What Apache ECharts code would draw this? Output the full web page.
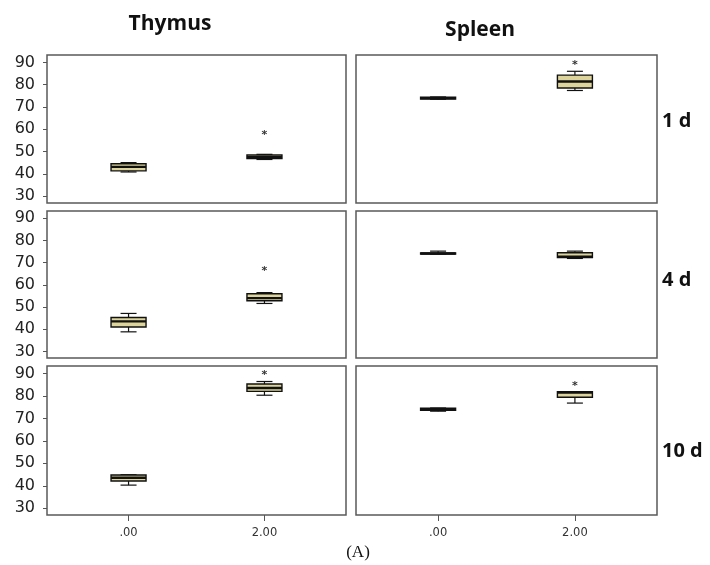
<!DOCTYPE html>
<html><head><meta charset="utf-8">
<script src="https://cdn.jsdelivr.net/npm/echarts@6/dist/echarts.min.js"></script>
<style>html,body{margin:0;padding:0;background:#fff}#c{width:710px;height:565px}</style>
</head><body><div id="c"></div>
<script>
// ---- data ----
const tissues = ['Thymus', 'Spleen'];
const days = ['1 d', '4 d', '10 d'];
const xValues = [0, 2];
const xTickLabels = ['.00', '2.00'];
const yTickValues = [30, 40, 50, 60, 70, 80, 90];
// box stats: [min, q1, median, q3, max] for .00 and 2.00
const thymus1d = [[40.9, 41.4, 43.2, 44.6, 45.1], [46.5, 46.9, 47.5, 48.5, 48.8]];
const spleen1d = [[73.5, 73.6, 74.0, 74.4, 74.5], [77.4, 78.5, 81.4, 84.3, 86.0]];
const thymus4d = [[38.8, 41.0, 43.5, 45.3, 47.1], [51.6, 52.8, 54.0, 56.0, 56.5]];
const spleen4d = [[73.9, 73.9, 74.1, 74.4, 75.2], [71.9, 72.3, 72.7, 74.5, 75.2]];
const thymus10d = [[40.3, 42.1, 43.6, 44.8, 44.9], [80.3, 82.0, 83.5, 85.3, 86.4]];
const spleen10d = [[73.2, 73.6, 74.0, 74.5, 74.6], [76.8, 79.4, 81.5, 81.9, 81.9]];
// outliers: [x, value]
const thymus1dOut = [[2, 58.6]];
const spleen1dOut = [[2, 90.0]];
const thymus4dOut = [[2, 67.7]];
const spleen4dOut = [];
const thymus10dOut = [[2, 90.4]];
const spleen10dOut = [[2, 85.5]];

const panels = [
  [thymus1d, thymus1dOut, spleen1d, spleen1dOut],
  [thymus4d, thymus4dOut, spleen4d, spleen4dOut],
  [thymus10d, thymus10dOut, spleen10d, spleen10dOut]
];

// ---- layout ----
const rows = [{top: 55, height: 148}, {top: 211, height: 147}, {top: 366, height: 149}];
const cols = [{left: 47, width: 299}, {left: 356, width: 301}];
const FILL = '#dcd49b';
const BOXW = 35, CAPW = 16;

function renderBox(params, api) {
  const x = api.value(0);
  const p = [1, 2, 3, 4, 5].map(i => api.coord([x, api.value(i)]));
  const cx = p[0][0];
  const yMin = p[0][1], yQ1 = p[1][1], yMed = p[2][1], yQ3 = p[3][1], yMax = p[4][1];
  const ls = {stroke: '#111', lineWidth: 1.2};
  const children = [
    {type: 'line', shape: {x1: cx, y1: yMax, x2: cx, y2: yQ3}, style: ls},
    {type: 'line', shape: {x1: cx, y1: yQ1, x2: cx, y2: yMin}, style: ls},
    {type: 'line', shape: {x1: cx - CAPW / 2, y1: yMax, x2: cx + CAPW / 2, y2: yMax}, style: ls},
    {type: 'line', shape: {x1: cx - CAPW / 2, y1: yMin, x2: cx + CAPW / 2, y2: yMin}, style: ls},
    {type: 'rect', shape: {x: cx - BOXW / 2, y: yQ3, width: BOXW, height: Math.max(yQ1 - yQ3, 0.5)},
      style: {fill: FILL, stroke: '#111', lineWidth: 1.4}},
    {type: 'line', shape: {x1: cx - BOXW / 2, y1: yMed, x2: cx + BOXW / 2, y2: yMed},
      style: {stroke: '#111', lineWidth: 2.4}}
  ];
  return {type: 'group', children};
}
function renderOut(params, api) {
  const pt = api.coord([api.value(0), api.value(1)]);
  return {type: 'text', x: pt[0], y: pt[1] + 3,
    style: {text: '*', fill: '#333', font: 'bold 11px "DejaVu Sans"', align: 'center', verticalAlign: 'middle'}};
}

const grid = [], xAxis = [], yAxis = [], series = [];
rows.forEach((r, ri) => {
  cols.forEach((c, ci) => {
    const gi = grid.length;
    grid.push({left: c.left, top: r.top, width: c.width, height: r.height, show: true,
      borderColor: '#5a5a5a', borderWidth: 1.5, backgroundColor: '#fff', containLabel: false});
    const bottom = ri === 2;
    xAxis.push({type: 'value', gridIndex: gi, min: -1.2, max: 3.2, position: 'bottom',
      axisLine: {show: false, onZero: false}, splitLine: {show: false},
      axisTick: {show: bottom, customValues: xValues, length: 6, lineStyle: {color: '#555', width: 1}},
      axisLabel: {show: bottom, customValues: xValues, margin: 12, color: '#333', fontSize: 11.5,
        fontFamily: 'DejaVu Sans', formatter: v => xTickLabels[xValues.indexOf(v)]}});
    const left = ci === 0;
    yAxis.push({type: 'value', gridIndex: gi, min: 27, max: 93.3, position: 'left',
      axisLine: {show: false, onZero: false}, splitLine: {show: false},
      axisTick: {show: left, customValues: yTickValues, length: 4, lineStyle: {color: '#555', width: 1}},
      axisLabel: {show: left, customValues: yTickValues, margin: 12, color: '#222', fontSize: 16,
        fontFamily: 'DejaVu Sans'}});
    const boxes = panels[ri][ci * 2];
    const outs = panels[ri][ci * 2 + 1];
    series.push({type: 'custom', xAxisIndex: gi, yAxisIndex: gi, renderItem: renderBox, clip: false,
      encode: {x: 0, y: [1, 2, 3, 4, 5]},
      data: boxes.map((b, i) => [xValues[i]].concat(b))});
    series.push({type: 'custom', xAxisIndex: gi, yAxisIndex: gi, renderItem: renderOut, clip: false,
      encode: {x: 0, y: 1}, data: outs});
  });
});

const headFont = 'bold 21px "Open Sans"';
const graphic = [
  {type: 'text', x: 170, y: 24, style: {text: tissues[0], font: headFont, fill: '#111', align: 'center', verticalAlign: 'middle'}},
  {type: 'text', x: 480, y: 30, style: {text: tissues[1], font: headFont, fill: '#111', align: 'center', verticalAlign: 'middle'}},
  {type: 'text', x: 662, y: 121, style: {text: days[0], font: 'bold 20px "Open Sans"', fill: '#111', align: 'left', verticalAlign: 'middle'}},
  {type: 'text', x: 662, y: 280, style: {text: days[1], font: 'bold 20px "Open Sans"', fill: '#111', align: 'left', verticalAlign: 'middle'}},
  {type: 'text', x: 662, y: 451, style: {text: days[2], font: 'bold 20px "Open Sans"', fill: '#111', align: 'left', verticalAlign: 'middle'}},
  {type: 'text', x: 358, y: 553, style: {text: '(A)', font: '17px "Liberation Serif"', fill: '#111', align: 'center', verticalAlign: 'middle'}}
];

const chart = echarts.init(document.getElementById('c'), null, {renderer: 'canvas'});
chart.setOption({animation: false, backgroundColor: '#fff', grid, xAxis, yAxis, series, graphic});
</script></body></html>
